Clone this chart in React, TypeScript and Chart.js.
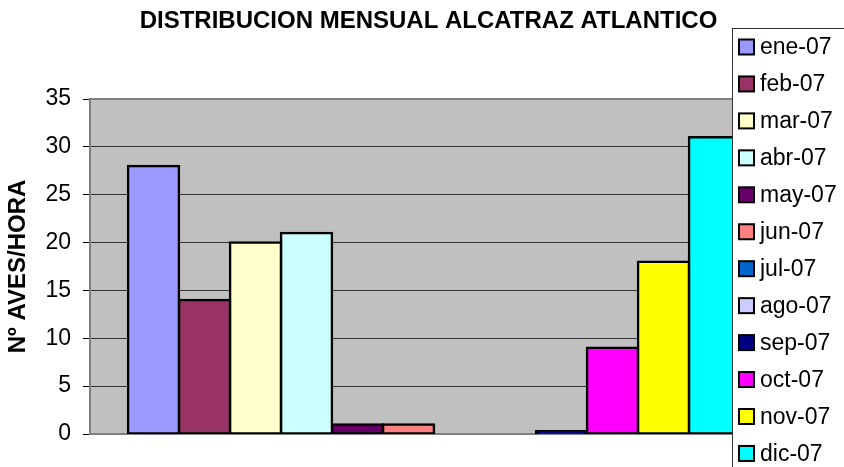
import React, { useEffect, useRef } from 'react';
import { Chart, registerables } from 'chart.js';

Chart.register(...registerables);

const TITLE = 'DISTRIBUCION MENSUAL ALCATRAZ ATLANTICO';
const Y_TITLE = 'Nº AVES/HORA';
const CATEGORIES = [''];
const MONTHS = ['ene-07', 'feb-07', 'mar-07', 'abr-07', 'may-07', 'jun-07', 'jul-07', 'ago-07', 'sep-07', 'oct-07', 'nov-07', 'dic-07'];
const VALUES = [28, 14, 20, 21, 1, 1, 0, 0, 0.3, 9, 18, 31];
const COLORS = ['#9999FF', '#993366', '#FFFFCC', '#CCFFFF', '#660066', '#FF8080', '#0066CC', '#CCCCFF', '#000080', '#FF00FF', '#FFFF00', '#00FFFF'];
const Y_MIN = 0;
const Y_MAX = 35;
const Y_STEP = 5;

const FONT = '"Liberation Sans", Arial, sans-serif';

const plotBackground = {
  id: 'plotBackground',
  beforeDraw(chart: any) {
    const { ctx, chartArea: a } = chart;
    ctx.save();
    ctx.fillStyle = '#FFFFFF';
    ctx.fillRect(0, 0, chart.width, chart.height);
    ctx.fillStyle = '#C0C0C0';
    ctx.fillRect(a.left, a.top, a.right - a.left, a.bottom - a.top);
    ctx.restore();
  },
};

const plotBorder = {
  id: 'plotBorder',
  beforeDatasetsDraw(chart: any) {
    const { ctx, chartArea: a } = chart;
    ctx.save();
    ctx.strokeStyle = '#808080';
    ctx.lineWidth = 2;
    ctx.strokeRect(a.left, a.top, a.right - a.left, a.bottom - a.top);
    ctx.restore();
  },
};

const titleAndLegend = {
  id: 'titleAndLegend',
  afterDraw(chart: any) {
    const { ctx } = chart;
    ctx.save();
    // title
    ctx.fillStyle = '#000';
    ctx.font = `bold 24px ${FONT}`;
    ctx.textAlign = 'center';
    ctx.textBaseline = 'middle';
    ctx.fillText(TITLE, 428.5, 21.5);

    // legend box
    const bx = 732.5;
    const by = 28.5;
    ctx.fillStyle = '#FFFFFF';
    ctx.fillRect(bx, by, chart.width - bx + 5, chart.height - by + 5);
    ctx.strokeStyle = '#333';
    ctx.lineWidth = 1;
    ctx.strokeRect(bx, by, chart.width - bx + 5, chart.height - by + 5);

    ctx.font = `23px ${FONT}`;
    ctx.textAlign = 'left';
    ctx.textBaseline = 'middle';
    chart.data.datasets.forEach((ds: any, i: number) => {
      const cy = 47 + i * 36.95;
      ctx.fillStyle = ds.backgroundColor;
      ctx.fillRect(739, cy - 7.5, 15, 15);
      ctx.strokeStyle = '#000';
      ctx.lineWidth = 2;
      ctx.strokeRect(739, cy - 7.5, 15, 15);
      ctx.fillStyle = '#000';
      ctx.fillText(ds.label, 760, cy + 1);
    });
    ctx.restore();
  },
};

export default function App() {
  const ref = useRef<HTMLCanvasElement | null>(null);

  useEffect(() => {
    if (!ref.current) return;
    const chart = new Chart(ref.current, {
      type: 'bar',
      data: {
        labels: CATEGORIES,
        datasets: MONTHS.map((m, i) => ({
          label: m,
          data: [VALUES[i] === 0 ? null : VALUES[i]],
          backgroundColor: COLORS[i],
          borderColor: '#000000',
          borderWidth: 2.5,
          borderSkipped: false,
          inflateAmount: 1.25,
          categoryPercentage: 0.8895,
          barPercentage: 1,
        })),
      },
      options: {
        animation: false,
        responsive: false,
        maintainAspectRatio: false,
        devicePixelRatio: 1,
        layout: { padding: { top: 99, bottom: 33, left: 0, right: 66 } },
        plugins: {
          legend: { display: false },
          title: { display: false },
          tooltip: { enabled: false },
        },
        scales: {
          x: { display: false },
          y: {
            min: Y_MIN,
            max: Y_MAX,
            ticks: {
              stepSize: Y_STEP,
              color: '#000',
              padding: 12,
              font: { family: FONT, size: 23 },
            },
            grid: {
              color: '#333333',
              tickColor: '#000000',
              tickLength: 7,
              lineWidth: 1,
            },
            border: { display: false },
            title: {
              display: true,
              text: Y_TITLE,
              color: '#000',
              font: { family: FONT, size: 24, weight: 'bold' },
              padding: { top: 4, bottom: 0 },
            },
            afterFit: (s: any) => {
              s.width = 90;
            },
          },
        },
      },
      plugins: [plotBackground, plotBorder, titleAndLegend],
    } as any);
    return () => chart.destroy();
  }, []);

  return (
    <div style={{ position: 'absolute', left: 0, top: 0, width: 844, height: 467 }}>
      <canvas ref={ref} width={844} height={467} />
    </div>
  );
}
